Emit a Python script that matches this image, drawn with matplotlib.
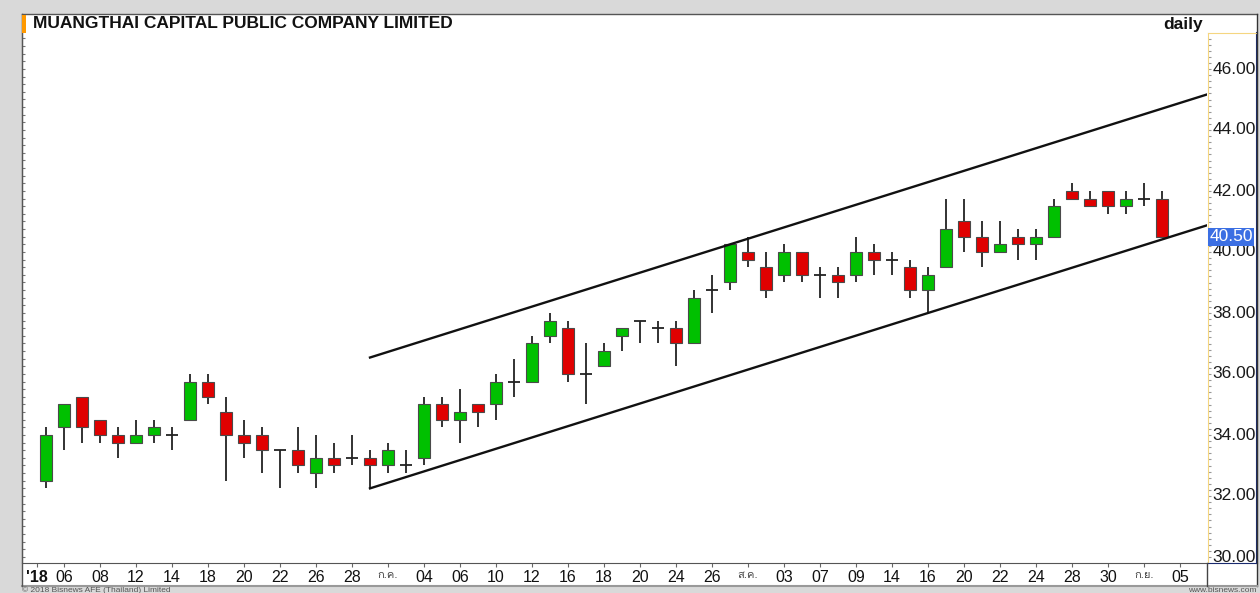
import numpy as np
import matplotlib
matplotlib.use('Agg')
import matplotlib.pyplot as plt
from matplotlib import font_manager
from matplotlib.ft2font import FT2Font
from matplotlib.lines import Line2D
from matplotlib.patches import Rectangle

#---------------------------------- DATA -----------------------------------
opens  = [32.5,34.25,35.25,34.5,34.0,33.75,34.0,34.0,34.5,35.75,34.75,34.0,34.0,33.5,33.5,32.75,33.25,33.25,33.25,33.0,
          33.0,33.25,35.0,34.5,35.0,35.0,35.75,35.75,37.25,37.5,36.0,36.25,37.25,37.75,37.5,37.5,37.0,38.75,39.0,40.0,
          39.5,39.25,40.0,39.25,39.25,39.25,40.0,39.75,39.5,38.75,39.5,41.0,40.5,40.0,40.5,40.25,40.5,42.0,41.75,42.0,
          41.5,41.75,41.75]
highs  = [34.25,35.0,35.25,34.5,34.25,34.5,34.5,34.25,36.0,36.0,35.25,34.5,34.25,33.5,34.25,34.0,33.75,34.0,33.5,33.75,
          33.5,35.25,35.25,35.5,35.0,36.0,36.5,37.25,38.0,37.75,37.0,37.0,37.5,37.75,37.75,37.75,38.75,39.25,40.25,40.5,
          40.0,40.25,40.0,39.5,39.5,40.5,40.25,40.0,39.75,39.5,41.75,41.75,41.0,41.0,40.75,40.75,41.75,42.25,42.0,42.0,
          42.0,42.25,42.0]
lows   = [32.25,33.5,33.75,33.75,33.25,33.75,33.75,33.5,34.5,35.0,32.5,33.25,32.75,32.25,32.75,32.25,32.75,33.0,32.25,32.75,
          32.75,33.0,34.25,33.75,34.25,34.5,35.25,35.75,37.0,35.75,35.0,36.25,36.75,37.0,37.0,36.25,37.0,38.0,38.75,39.5,
          38.5,39.0,39.0,38.5,38.5,39.0,39.25,39.25,38.5,38.0,39.5,40.0,39.5,40.0,39.75,39.75,40.5,41.75,41.5,41.25,
          41.25,41.5,40.5]
closes = [34.0,35.0,34.25,34.0,33.75,34.0,34.25,34.0,35.75,35.25,34.0,33.75,33.5,33.5,33.0,33.25,33.0,33.25,33.0,33.5,
          33.0,35.0,34.5,34.75,34.75,35.75,35.75,37.0,37.75,36.0,36.0,36.75,37.5,37.75,37.5,37.0,38.5,38.75,40.25,39.75,
          38.75,40.0,39.25,39.25,39.0,40.0,39.75,39.75,38.75,39.25,40.75,40.5,40.0,40.25,40.25,40.5,41.5,41.75,41.5,41.5,
          41.75,41.75,40.5]
tick_pos    = [-0.5,1,3,5,7,9,11,13,15,17,19,21,23,25,27,29,31,33,35,37,39,41,43,45,47,49,51,53,55,57,59,61,63]
tick_labels = ["'18",'06','08','12','14','18','20','22','26','28','ก.ค.','04','06','10','12','16','18','20','24','26',
               'ส.ค.','03','07','09','14','16','20','22','24','28','30','ก.ย.','05']
price_ticks = [30,32,34,36,38,40,42,44,46]
channel_start, channel_low, channel_touch, channel_touch_low, channel_top_at_touch = 18, 32.25, 49, 38.0, 40.25
last_price = 40.50

#---------------------------------- FONTS ----------------------------------
plt.rcParams['font.family'] = ['Liberation Sans', 'DejaVu Sans']
thai_font = 'DejaVu Sans'
for f in font_manager.fontManager.ttflist:
    try:
        if ord('ก') in FT2Font(f.fname).get_charmap():
            thai_font = f.name
            break
    except Exception:
        pass

W, H = 1260, 593
fig = plt.figure(figsize=(W/100, H/100), dpi=100, facecolor='#d9d9d9')
def fx(px): return px/W
def fy(py): return 1-py/H

# white panel
fig.patches.append(Rectangle((fx(22), fy(586)), fx(1257)-fx(22), fy(14)-fy(586), transform=fig.transFigure,
                             facecolor='white', edgecolor='none', zorder=-5))

#---------------------------------- MAIN -----------------------------------
ax = fig.add_axes([fx(22), fy(563), fx(1207)-fx(22), fy(14)-fy(563)])
ax.set_xlim(-24/18, (1207-46)/18)
ax.set_ylim(30-6/30.5, 30+543/30.5)
for s in ['top','right']:
    ax.spines[s].set_visible(False)
ax.spines['left'].set_color('#555555')
ax.spines['bottom'].set_color('#555555')

x = np.arange(len(opens))
o = np.array(opens); c = np.array(closes)
up = c > o; dn = c < o; eq = c == o
ax.vlines(x, lows, highs, color='#222222', lw=1.3, zorder=2)
ax.bar(x[up], (c-o)[up], bottom=o[up], width=0.62, color='#00c000', edgecolor='#4a4a4a', lw=0.8, zorder=3)
ax.bar(x[dn], (c-o)[dn], bottom=o[dn], width=0.62, color='#e00000', edgecolor='#4a4a4a', lw=0.8, zorder=3)
ax.hlines(c[eq], x[eq]-0.33, x[eq]+0.33, color='#222222', lw=1.3, zorder=3)

# channel
slope = (channel_touch_low-channel_low)/(channel_touch-channel_start)
offset = channel_top_at_touch - (channel_low + slope*(38-channel_start))
xe = ax.get_xlim()[1]
xs = np.array([channel_start, xe])
ax.plot(xs, channel_low+slope*(xs-channel_start), color='#111111', lw=1.7, zorder=4)
ax.plot(xs, channel_low+offset+slope*(xs-channel_start), color='#111111', lw=1.7, zorder=4)

ax.set_yticks([])
ax.set_yticks(np.arange(30, 47.6, 0.25), minor=True)
ax.tick_params(axis='y', which='minor', direction='in', length=2, color='#777777', width=0.8)
ax.set_xticks(tick_pos)
ax.set_xticklabels(tick_labels)
ax.tick_params(axis='x', direction='out', length=3, color='#666666', pad=2, labelsize=11.5, labelcolor='#111111')
for t in ax.get_xticklabels():
    if t.get_text().startswith('ก') or t.get_text().startswith('ส'):
        t.set_family([thai_font, 'Liberation Sans'])
        t.set_fontsize(8)
        t.set_color('#444444')
    if t.get_text() == "'18":
        t.set_fontweight('bold')

#---------------------------------- RIGHT ----------------------------------
ax2 = fig.add_axes([fx(1208), fy(563), fx(1257)-fx(1208), fy(33)-fy(563)])
ax2.set_ylim(30-6/30.5, 30+524/30.5)
ax2.set_xlim(0, 1)
ax2.set_xticks([])
ax2.set_yticks([])
ax2.set_yticks(np.arange(30, 47.1, 0.2), minor=True)
ax2.tick_params(axis='y', which='minor', direction='in', length=2, color='#999999', width=0.8)
ax2.spines['left'].set_color('#f5d680')
ax2.spines['top'].set_color('#f5d680')
ax2.spines['right'].set_color('#1a2a6e')
ax2.spines['bottom'].set_color('#1a2a6e')
ax2.spines['right'].set_linewidth(1.5)
for p in price_ticks:
    ax2.text(0.98, p, '%.2f' % p, ha='right', va='center', fontsize=12.5, color='#1a1a1a')
ax2.text(0.03, last_price, '%.2f' % last_price, ha='left', va='center', fontsize=12.5, color='white',
         bbox=dict(boxstyle='square,pad=0.08', facecolor='#3b6fe3', edgecolor='none'))

#---------------------------------- FRAME ----------------------------------
fig.add_artist(Line2D([fx(22), fx(1257)], [fy(14), fy(14)], color='#555555', lw=1))
fig.add_artist(Line2D([fx(1257), fx(1257)], [fy(14), fy(586)], color='#333333', lw=1))
fig.add_artist(Line2D([fx(22), fx(1257)], [fy(585.5), fy(585.5)], color='#999999', lw=1.5))
fig.add_artist(Line2D([fx(1207), fx(1207)], [fy(563), fy(586)], color='#444444', lw=1))
fig.add_artist(Line2D([fx(22), fx(22)], [fy(14), fy(586)], color='#555555', lw=1))
fig.patches.append(Rectangle((fx(22), fy(33)), fx(26)-fx(22), fy(15)-fy(33), transform=fig.transFigure,
                             facecolor='#ff9900', edgecolor='none', zorder=5))

fig.text(fx(33), fy(23.5), 'MUANGTHAI CAPITAL PUBLIC COMPANY LIMITED', ha='left', va='center',
         fontsize=12.5, fontweight='bold', color='#111111')
fig.text(fx(1203), fy(24), 'daily', ha='right', va='center', fontsize=12.5, fontweight='bold', color='#111111')
fig.text(fx(22), fy(590), '© 2018 Bisnews AFE (Thailand) Limited', ha='left', va='center', fontsize=6, color='#555555')
fig.text(fx(1257), fy(590.5), 'www.bisnews.com', ha='right', va='center', fontsize=6, color='#555555')

fig.savefig('out.png', dpi=100, facecolor=fig.get_facecolor())
